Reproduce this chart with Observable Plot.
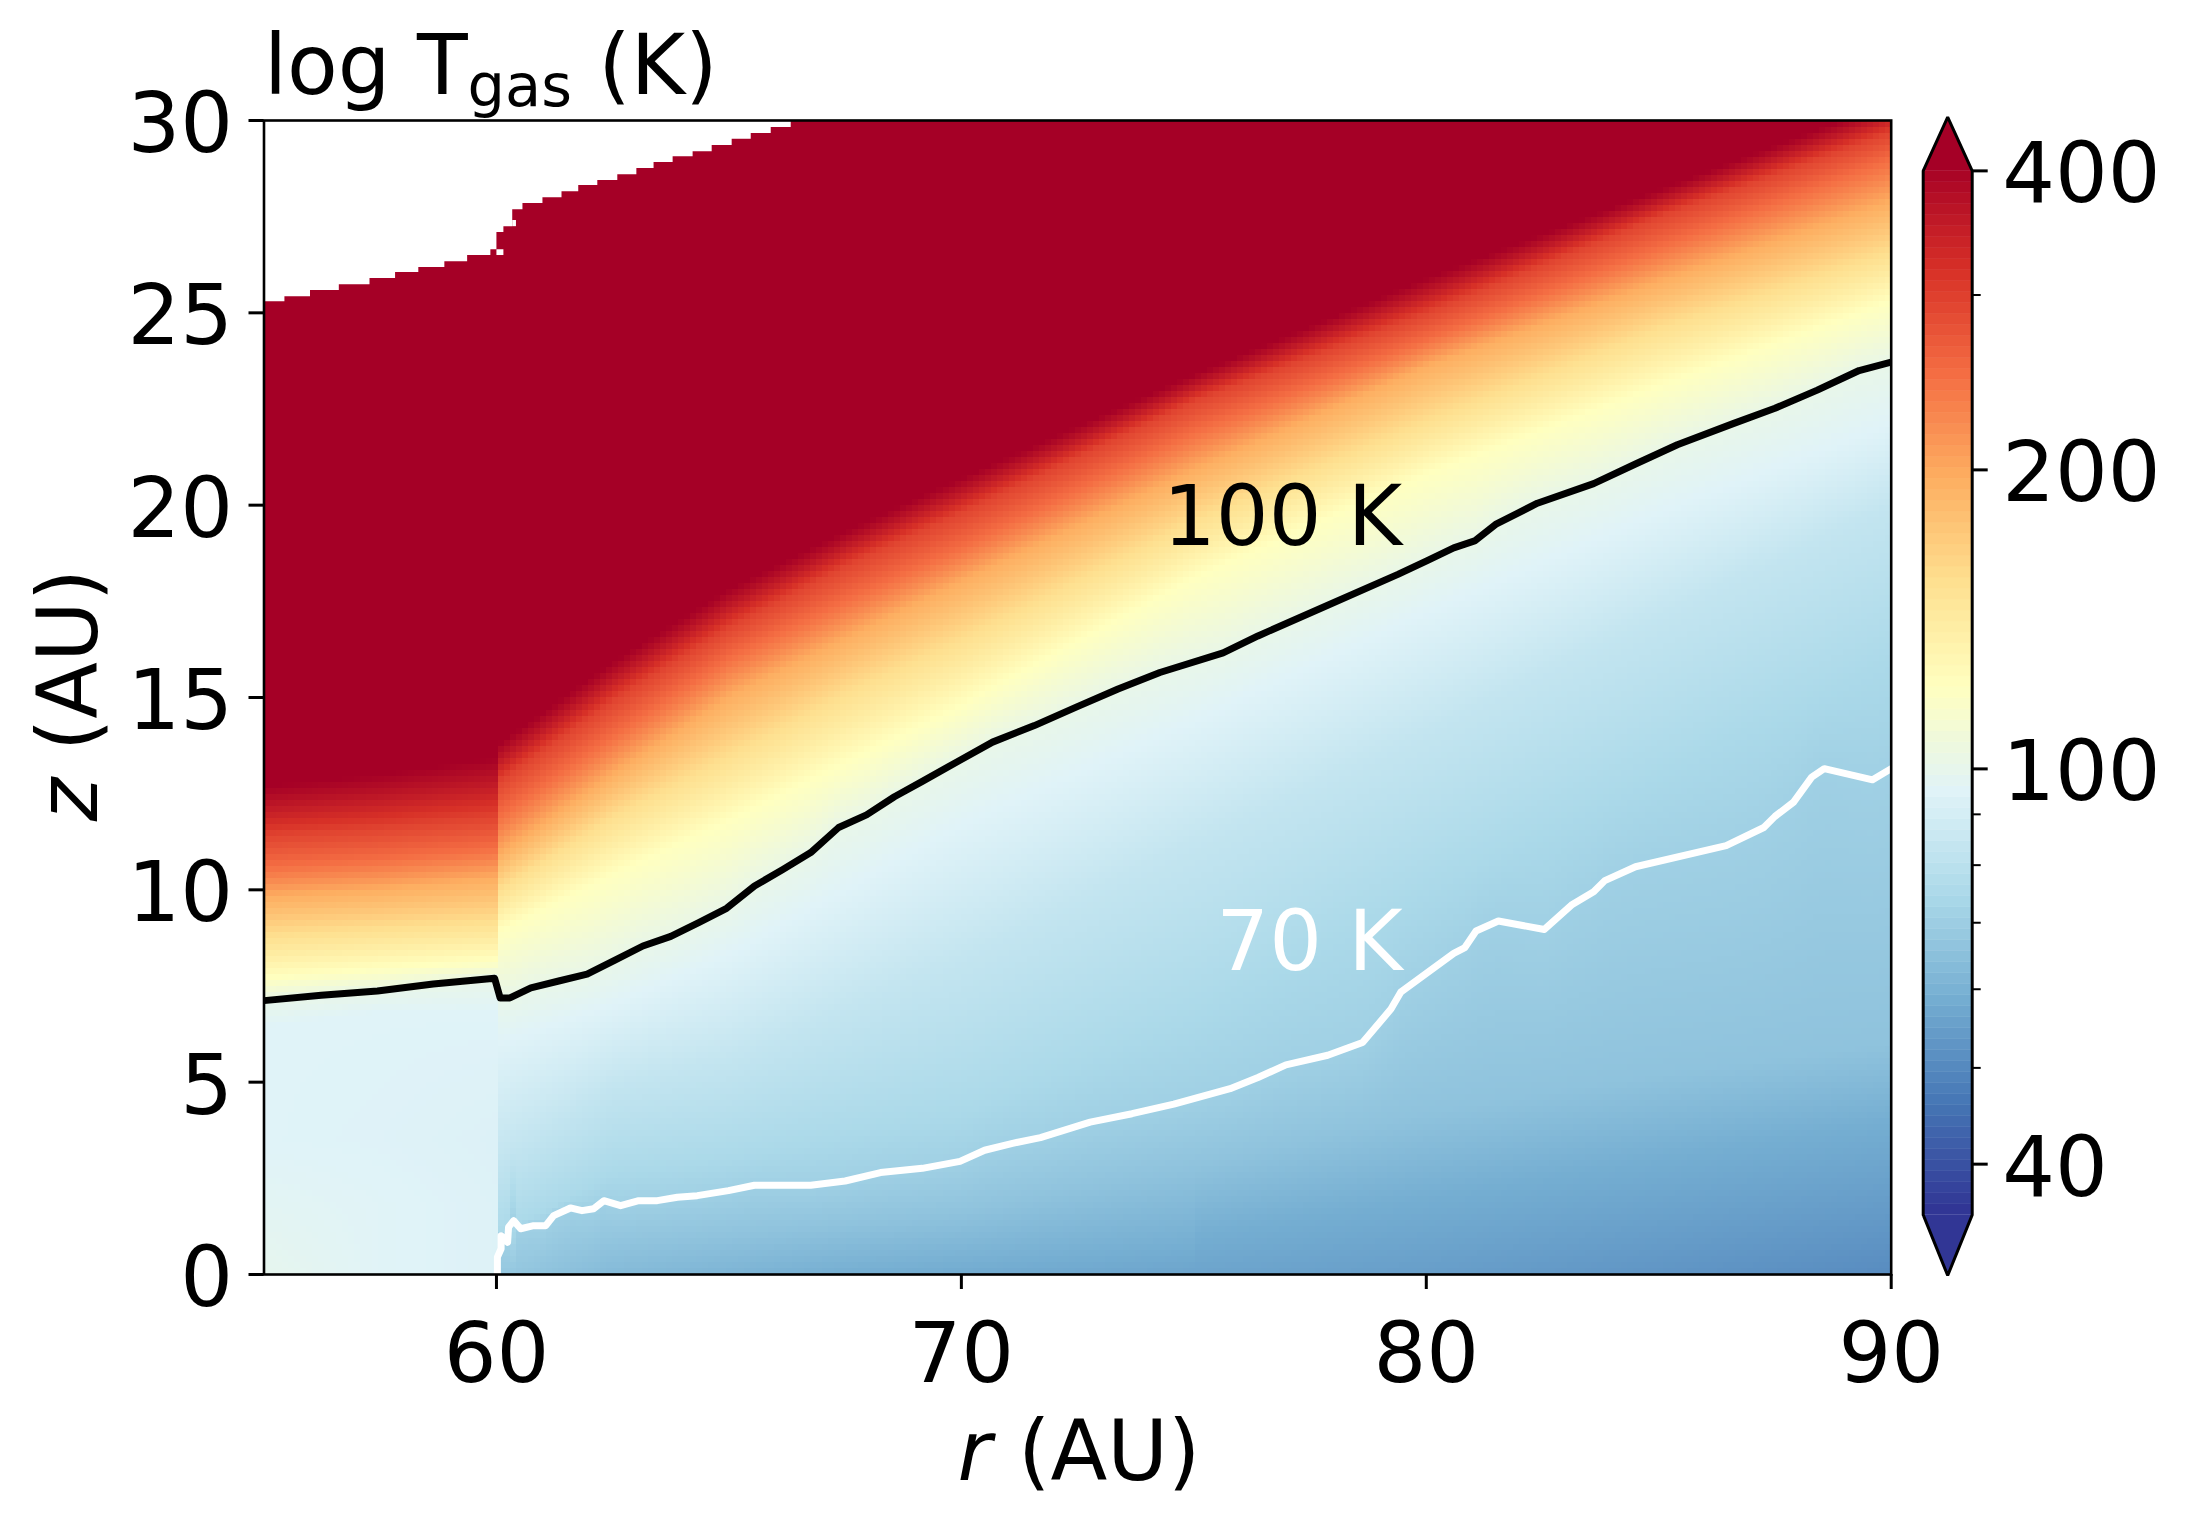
<!DOCTYPE html>
<html>
<head>
<meta charset="utf-8">
<script src="https://cdn.jsdelivr.net/npm/d3@7"></script>
<script src="https://cdn.jsdelivr.net/npm/@observablehq/plot@0.6"></script>
<style>
  body { margin: 0; background: white; overflow: hidden; }
  #fig { position: relative; width: 2189px; height: 1526px; font-family: "DejaVu Sans"; font-size: 83px; color: black; }
  #fig svg { position: absolute; top: 0; }
  .lab { position: absolute; white-space: nowrap; line-height: normal; }
</style>
</head>
<body>
<div id="fig">
  <div id="chart"></div>
  <div id="bar"></div>
  <div class="lab" style="left:264px;top:17px">log T<span style="font-size:59px;position:relative;top:12px">gas</span> (K)</div>
  <div class="lab" style="left:1079px;top:1403px;transform:translateX(-50%)"><i>r</i> (AU)</div>
  <div class="lab" style="left:68px;top:695px;transform:translate(-50%,-50%) rotate(-90deg)"><i>z</i> (AU)</div>
</div>
<script>
// matplotlib RdYlBu_r, cold to hot
const rampColors = ['#313695', '#4575b4', '#74add1', '#abd9e9', '#e0f3f8', '#ffffbf', '#fee090', '#fdae61', '#f46d43', '#d73027', '#a50026']
const tempMin = 35.56
const tempMax = 400

// height z (AU) of each temperature level, read at these radii
const colR = [55, 57.5, 59.96, 60.04, 62.5, 65, 67.5, 70, 75, 80, 85, 90]
const iso400 = [12.7, 13.0, 13.44, 13.8, 15.9, 17.8, 19.3, 20.7, 23.4, 25.9, 28.2, 30.5]
const iso290 = [11.4, 11.6, 11.9, 12.8, 14.9, 16.8, 18.4, 19.8, 22.7, 25.0, 27.5, 29.7]
const iso246 = [10.6, 10.8, 11.1, 11.9, 14.0, 16.0, 17.5, 18.9, 21.9, 24.3, 26.7, 29.0]
const iso193 = [9.8, 10, 10.3, 10.9, 13.0, 15.0, 16.5, 18.0, 20.9, 23.6, 25.8, 27.9]
const iso153 = [8.8, 9, 9.2, 10.0, 11.9, 13.5, 15.1, 16.5, 19.6, 22.2, 24.6, 26.6]
const iso119 = [7.7, 7.95, 8.16, 8.9, 10.4, 11.8, 13.3, 14.8, 18.1, 20.8, 23.1, 25.3]
const iso93 = [6.4, 6.8, 6.8, 6.0, 7.0, 8.3, 10.0, 11.7, 14.4, 17.2, 19.8, 22.1]
const iso82 = [null, null, null, 3, 4.9, 5.6, 6.9, 8.2, 11.2, 14.1, 17.1, 20]
const iso73 = [null, null, null, 1, 2.6, 3, 3.6, 4.2, 6.7, 10, 13, 15.9]
const iso65 = [null, null, null, null, 0.7, 1, 1.3, 1.6, 2.8, 4.2, 5.2, 6]
const iso58 = [null, null, null, null, null, null, null, null, 1, 2, 3, 4]
// temperature at the midplane
const floorT = [98, 94, 92.5, 67, 62, 60, 58, 57, 55.5, 54, 52, 50]
// the flat part under the 100 K line, inside 60 AU
const inner18 = [95.5, 94, 92.5, null, null, null, null, null, null, null, null, null]
const inner35 = [93.5, 93, 92, null, null, null, null, null, null, null, null, null]

// 100 K contour
const line100R = [55, 56.23, 57.44, 58.64, 59.96, 60.08, 60.29, 60.74, 61.34, 61.95, 62.55, 63.15, 63.75, 64.35, 64.95, 65.55, 66.16, 66.76, 67.36, 67.96, 68.56, 69.16, 69.97, 70.67, 71.57, 72.47, 73.37, 74.27, 75.63, 76.38, 77.88, 79.39, 80.02, 80.59, 81.04, 81.49, 82.39, 83.6, 84.5, 85.4, 86.6, 87.5, 88.41, 89.31, 90]
const line100Z = [7.12, 7.26, 7.37, 7.55, 7.70, 7.19, 7.19, 7.45, 7.63, 7.81, 8.17, 8.54, 8.79, 9.15, 9.52, 10.10, 10.53, 10.97, 11.62, 11.95, 12.42, 12.82, 13.37, 13.84, 14.27, 14.75, 15.22, 15.65, 16.16, 16.60, 17.40, 18.20, 18.56, 18.89, 19.07, 19.50, 20.05, 20.56, 21.07, 21.57, 22.12, 22.52, 22.99, 23.50, 23.72]
// 70 K contour
const line70R = [60.02, 60.02, 60.10, 60.10, 60.24, 60.26, 60.37, 60.52, 60.8, 61.06, 61.23, 61.59, 61.84, 62.09, 62.31, 62.67, 63.06, 63.46, 63.89, 64.32, 64.99, 65.55, 66.76, 67.5, 68.26, 69.16, 69.97, 70.5, 71.1, 71.7, 72.77, 73.67, 74.57, 75.78, 76.38, 76.98, 77.88, 78.63, 79.24, 79.45, 80.59, 80.83, 81.07, 81.55, 82.54, 83.14, 83.6, 83.84, 84.5, 86.45, 87.26, 87.5, 87.9, 88.29, 88.56, 89.6, 90]
const line70Z = [0, 0.45, 0.67, 1.01, 0.84, 1.23, 1.40, 1.19, 1.27, 1.27, 1.53, 1.73, 1.66, 1.71, 1.92, 1.79, 1.92, 1.92, 2.01, 2.05, 2.18, 2.32, 2.32, 2.43, 2.65, 2.76, 2.94, 3.23, 3.41, 3.56, 3.96, 4.18, 4.43, 4.83, 5.12, 5.45, 5.70, 6.03, 6.90, 7.34, 8.35, 8.50, 8.93, 9.19, 8.97, 9.62, 9.95, 10.24, 10.6, 11.15, 11.62, 11.91, 12.28, 12.93, 13.15, 12.86, 13.15]

// upper edge of the model grid, blank above it
const edgeR = [55, 55.45, 56.0, 56.62, 57.28, 57.83, 58.33, 58.89, 59.38, 59.88, 60.01, 60.16, 60.35, 60.57, 61.0, 61.41, 61.77, 62.18, 62.61, 63.02, 63.39, 63.8, 64.23, 64.64, 65.07, 65.48, 65.91, 66.34]
const edgeZ = [25.29, 25.42, 25.58, 25.73, 25.89, 26.05, 26.18, 26.33, 26.49, 26.64, 27.09, 27.24, 27.68, 27.84, 27.99, 28.15, 28.31, 28.44, 28.59, 28.75, 28.91, 29.06, 29.19, 29.35, 29.51, 29.66, 29.82, 30]
const holeR1 = [60.01, 60.35]
const holeR2 = [60.16, 60.43]
const holeZ1 = [26.49, 27.24]
const holeZ2 = [26.64, 27.4]

const xTicks = [60, 70, 80, 90]
const yTicks = [0, 5, 10, 15, 20, 25, 30]
const barMajor = [40, 100, 200, 400]
const barMinor = [50, 60, 70, 80, 90, 300]

const colorOpts = {
  type: 'log',
  domain: [tempMin, tempMax],
  interpolate: d3.piecewise(d3.interpolateRgb, rampColors),
  clamp: true,
}

const isoLevels = [[iso400, 400], [iso290, 290], [iso246, 246], [iso193, 193], [iso153, 153], [iso119, 119], [iso93, 93.5], [iso82, 82], [iso73, 73.5], [iso65, 65], [iso58, 58]]

// value of a table row at radius r, following the levels between the read columns
function atR(xs, ys, r) {
  let i = Math.min(Math.max(d3.bisectRight(xs, r), 1), xs.length - 1)
  let k = (r - xs[i - 1]) / ((xs[i] - xs[i - 1]) || 1)
  if (k == 0) return ys[i - 1]
  if (ys[i - 1] == null || ys[i] == null) return null
  return ys[i - 1] + k * (ys[i] - ys[i - 1])
}

function tempAt(x, z) {
  // sharp jump at the 60 AU wall
  let r = x < 60 ? Math.min(x, 59.96) : Math.max(x, 60.04)
  let pts = [[0, atR(colR, floorT, r)]]
  if (r < 60) {
    pts.push([1.8, atR(colR, inner18, r)], [3.5, atR(colR, inner35, r)])
  } else {
    pts.push([Math.max(atR(line70R, line70Z, r), 0.01), 70])
  }
  pts.push([atR(line100R, line100Z, r), 100])
  isoLevels.forEach(([zs, t]) => {
    let zl = atR(colR, zs, r)
    if (zl != null && zl > 0) pts.push([zl, t])
  })
  pts.sort((a, b) => a[0] - b[0])
  let i = pts.findIndex(p => p[0] >= z)
  if (i < 0) return 400
  if (i == 0) return pts[0][1]
  let [z0, t0] = pts[i - 1]
  let [z1, t1] = pts[i]
  return t0 + (z - z0) / ((z1 - z0) || 1) * (t1 - t0)
}

let chart = Plot.plot({
  width: 2189,
  height: 1526,
  marginLeft: 263.5,
  marginRight: 298.3,
  marginTop: 120,
  marginBottom: 252,
  x: {domain: [55, 90]},
  y: {domain: [0, 30]},
  color: colorOpts,
  style: {background: 'transparent', fontFamily: 'DejaVu Sans', color: 'black'},
  marks: [
    Plot.raster({
      fill: tempAt,
      x1: 55,
      x2: 90,
      y1: 0,
      y2: 30,
      pixelSize: 6,
      imageRendering: 'pixelated',
    }),
    Plot.areaY(edgeR, {
      x: d => d,
      y1: (d, i) => edgeZ[i],
      y2: () => 30.2,
      curve: 'step-after',
      fill: 'white',
      clip: true,
    }),
    Plot.rect(holeR1, {
      x1: d => d,
      x2: (d, i) => holeR2[i],
      y1: (d, i) => holeZ1[i],
      y2: (d, i) => holeZ2[i],
      fill: 'white',
    }),
    Plot.line(line100R, {
      x: d => d,
      y: (d, i) => line100Z[i],
      stroke: 'black',
      strokeWidth: 7,
      strokeLinejoin: 'round',
      clip: true,
    }),
    Plot.line(line70R, {
      x: d => d,
      y: (d, i) => line70Z[i],
      stroke: 'white',
      strokeWidth: 7,
      strokeLinejoin: 'round',
      clip: true,
    }),
    Plot.text(['100 K'], {x: 76.91, y: 19.65, text: d => d, fill: 'black', fontSize: 83, textAnchor: 'middle'}),
    Plot.text(['70 K'], {x: 77.49, y: 8.6, text: d => d, fill: 'white', fontSize: 83, textAnchor: 'middle'}),
    Plot.frame({stroke: 'black', strokeWidth: 2.6}),
    Plot.axisX({ticks: xTicks, tickSize: 15, tickPadding: 34, strokeWidth: 3, fontSize: 83, label: null, tickFormat: d => d}),
    Plot.axisY({ticks: yTicks, tickSize: 15, strokeWidth: 3, tickFormat: () => '', label: null}),
    Plot.axisY({ticks: yTicks, tickSize: 0, tickPadding: 31, dy: 5, fontSize: 83, label: null, tickFormat: d => d}),
  ],
})
d3.select('#chart').append(() => chart)

// colour bar, with triangular ends past the limits
const barTop = 453
const barBottom = 30.9
const barSteps = 95
let barEdges = d3.range(barSteps + 1).map(i => tempMin * Math.pow(tempMax / tempMin, i / barSteps))
let outline = [[0, tempMin], [0, tempMax], [0.5, barTop], [1, tempMax], [1, tempMin], [0.5, barBottom], [0, tempMin]]

let bar = Plot.plot({
  width: 289,
  height: 1526,
  marginLeft: 22.7,
  marginRight: 217.3,
  marginTop: 116.7,
  marginBottom: 251,
  x: {domain: [0, 1], axis: null},
  y: {type: 'log', domain: [barBottom, barTop]},
  color: colorOpts,
  style: {background: 'transparent', fontFamily: 'DejaVu Sans', color: 'black'},
  marks: [
    Plot.rect(barEdges.slice(0, -1), {
      x1: () => 0,
      x2: () => 1,
      y1: d => d,
      y2: (d, i) => barEdges[i + 1],
      fill: d => d,
      stroke: d => d,
      strokeWidth: 0.5,
    }),
    Plot.areaX([tempMax, barTop], {y: d => d, x1: d => (d == barTop ? 0.5 : 0), x2: d => (d == barTop ? 0.5 : 1), fill: rampColors[10]}),
    Plot.areaX([barBottom, tempMin], {y: d => d, x1: d => (d == barBottom ? 0.5 : 0), x2: d => (d == barBottom ? 0.5 : 1), fill: rampColors[0]}),
    Plot.line(outline, {x: d => d[0], y: d => d[1], stroke: 'black', strokeWidth: 3, strokeLinejoin: 'miter'}),
    Plot.axisY({anchor: 'right', ticks: barMinor, tickSize: 8, strokeWidth: 2, tickFormat: () => '', label: null}),
    Plot.axisY({anchor: 'right', ticks: barMajor, tickSize: 15, strokeWidth: 3, tickFormat: () => '', label: null}),
    Plot.axisY({anchor: 'right', ticks: barMajor, tickSize: 0, tickPadding: 30, dy: 5, fontSize: 83, tickFormat: d => d, label: null}),
  ],
})
bar.style.left = '1900px'
d3.select('#bar').append(() => bar)
</script>
</body>
</html>
